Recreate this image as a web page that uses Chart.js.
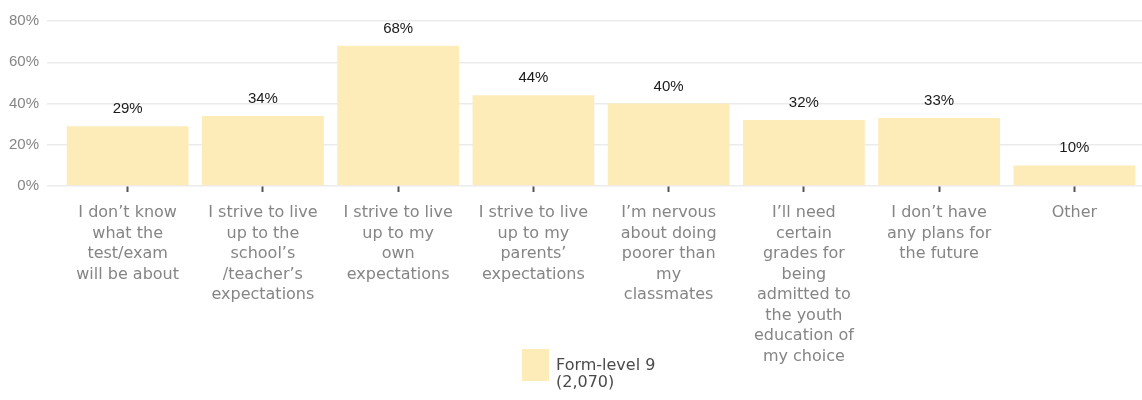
<!DOCTYPE html>
<html>
<head>
<meta charset="utf-8">
<script src="https://cdn.jsdelivr.net/npm/chart.js@4/dist/chart.umd.min.js"></script>
<style>
  html, body { margin: 0; padding: 0; background: #fff; }
  #wrap { position: relative; width: 1142px; height: 400px; }
</style>
</head>
<body>
<div id="wrap"><canvas id="reasonsChart"></canvas></div>
<script>
(function () {
    'use strict';

    var categories = [
        ['I don\u2019t know', 'what the', 'test/exam', 'will be about'],
        ['I strive to live', 'up to the', 'school\u2019s', '/teacher\u2019s', 'expectations'],
        ['I strive to live', 'up to my', 'own', 'expectations'],
        ['I strive to live', 'up to my', 'parents\u2019', 'expectations'],
        ['I\u2019m nervous', 'about doing', 'poorer than', 'my', 'classmates'],
        ['I\u2019ll need', 'certain', 'grades for', 'being', 'admitted to', 'the youth', 'education of', 'my choice'],
        ['I don\u2019t have', 'any plans for', 'the future'],
        ['Other']
    ];
    var shares = [29, 34, 68, 44, 40, 32, 33, 10];
    var seriesLabel = ['Form-level 9', '(2,070)'];

    var BAR_COLOR = '#fdebb8';
    var GRID_COLOR = '#ebebeb';
    var LABEL_GREY = '#858585';
    var TEXT_FONT = '"DejaVu Sans", "Open Sans", sans-serif';

    // Percent value printed above each bar
    var valueLabels = {
        id: 'valueLabels',
        afterDatasetsDraw: function (chart) {
            var ctx = chart.ctx;
            var meta = chart.getDatasetMeta(0);
            ctx.save();
            ctx.font = '15px "Liberation Sans", Arial, sans-serif';
            ctx.fillStyle = '#1a1a1a';
            ctx.textAlign = 'center';
            ctx.textBaseline = 'alphabetic';
            meta.data.forEach(function (bar, i) {
                ctx.fillText(chart.data.datasets[0].data[i] + '%', bar.x, bar.y - 13);
            });
            ctx.restore();
        }
    };

    // Single-series key, sits under the middle of the plot
    var seriesKey = {
        id: 'seriesKey',
        afterDraw: function (chart, args, opts) {
            var ctx = chart.ctx;
            var ds = chart.data.datasets[0];
            ctx.save();
            ctx.fillStyle = ds.backgroundColor;
            ctx.fillRect(opts.x, opts.y, opts.boxWidth, opts.boxHeight);
            ctx.font = '16px ' + TEXT_FONT;
            ctx.fillStyle = '#4a4a4a';
            ctx.textAlign = 'left';
            ctx.textBaseline = 'middle';
            ds.label.forEach(function (line, i) {
                ctx.fillText(line, opts.x + opts.boxWidth + 7, opts.y + opts.boxHeight / 2 + 1 + i * 17);
            });
            ctx.restore();
        }
    };

    var el = document.getElementById('reasonsChart');
    new Chart(el, {
        type: 'bar',
        data: {
            labels: categories,
            datasets: [{
                label: seriesLabel,
                data: shares,
                backgroundColor: BAR_COLOR,
                barPercentage: 0.9,
                categoryPercentage: 1.0
            }]
        },
        options: {
            responsive: true,
            maintainAspectRatio: false,
            animation: false,
            layout: { padding: { top: 21, left: 1, right: 0, bottom: 0 } },
            plugins: {
                legend: { display: false },
                tooltip: { enabled: false },
                seriesKey: { x: 522, y: 349, boxWidth: 27, boxHeight: 32 }
            },
            scales: {
                x: {
                    border: { display: false },
                    // the long wrapped labels need more room than the default half-height cap
                    afterFit: function (scale) { scale.height = 214; },
                    grid: {
                        offset: false,
                        drawOnChartArea: false,
                        drawTicks: true,
                        tickLength: 6,
                        tickColor: '#555',
                        tickWidth: 2
                    },
                    ticks: {
                        color: LABEL_GREY,
                        padding: 11,
                        maxRotation: 0,
                        autoSkip: false,
                        font: { family: TEXT_FONT, size: 16, lineHeight: 1.28 }
                    }
                },
                y: {
                    min: 0,
                    max: 80,
                    border: { display: false },
                    grid: { color: GRID_COLOR, lineWidth: 1.5, tickLength: 13 },
                    ticks: {
                        stepSize: 10,
                        padding: 8,
                        color: LABEL_GREY,
                        font: { family: '"Liberation Sans", Arial, sans-serif', size: 15 },
                        callback: function (v) { return v % 20 === 0 ? v + '%' : ''; }
                    }
                }
            }
        },
        plugins: [valueLabels, seriesKey]
    });
})();
</script>
</body>
</html>
